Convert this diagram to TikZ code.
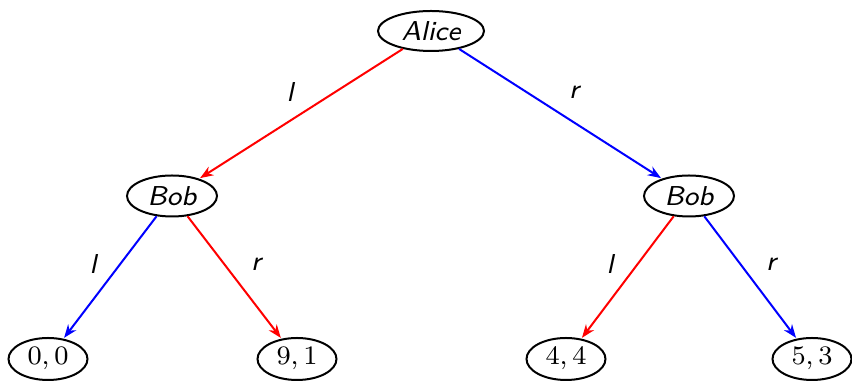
\documentclass[tikz,border=0pt]{standalone}
\usetikzlibrary{shapes.geometric,arrows.meta}
\begin{document}
\begin{tikzpicture}[x=0.3pt,y=-0.3pt,
  every node/.style={font=\fontsize{8.2pt}{10pt}\selectfont},
  player/.style={ellipse,draw,line width=0.6pt,inner sep=0pt,font=\fontsize{8.2pt}{10pt}\selectfont\sffamily\itshape},
  leaf/.style={ellipse,draw,line width=0.6pt,inner sep=0pt,minimum width=79*0.3pt,minimum height=42*0.3pt},
  edge/.style={-{Stealth[length=4pt,width=3pt]},line width=0.6pt,shorten >=0.3pt},
  lab/.style={font=\fontsize{8.2pt}{10pt}\selectfont\sffamily\itshape}]
\useasboundingbox (0,0) rectangle (852,391);
\node[player,minimum width=106*0.3pt,minimum height=40*0.3pt] (alice) at (431,31) {Alice};
\node[player,minimum width=90*0.3pt,minimum height=41*0.3pt] (bobl) at (172,196) {Bob};
\node[player,minimum width=90*0.3pt,minimum height=41*0.3pt] (bobr) at (689,196) {Bob};
\node[leaf] (l1) at (48,359) {$0,0$};
\node[leaf] (l2) at (297,359) {$9,1$};
\node[leaf] (l3) at (566,359) {$4,4$};
\node[leaf] (l4) at (812,359) {$5,3$};
\draw[edge,red] (alice) -- (bobl);
\draw[edge,blue] (alice) -- (bobr);
\draw[edge,blue] (bobl) -- (l1);
\draw[edge,red] (bobl) -- (l2);
\draw[edge,red] (bobr) -- (l3);
\draw[edge,blue] (bobr) -- (l4);
\node[lab] (la) at (290,92) {l};
\node[lab] (ra) at (574,92) {r};
\node[lab] (lb) at (93,264) {l};
\node[lab] (rb) at (256,264) {r};
\node[lab] (lc) at (610,264) {l};
\node[lab] (rc) at (771,264) {r};
\end{tikzpicture}
\end{document}
